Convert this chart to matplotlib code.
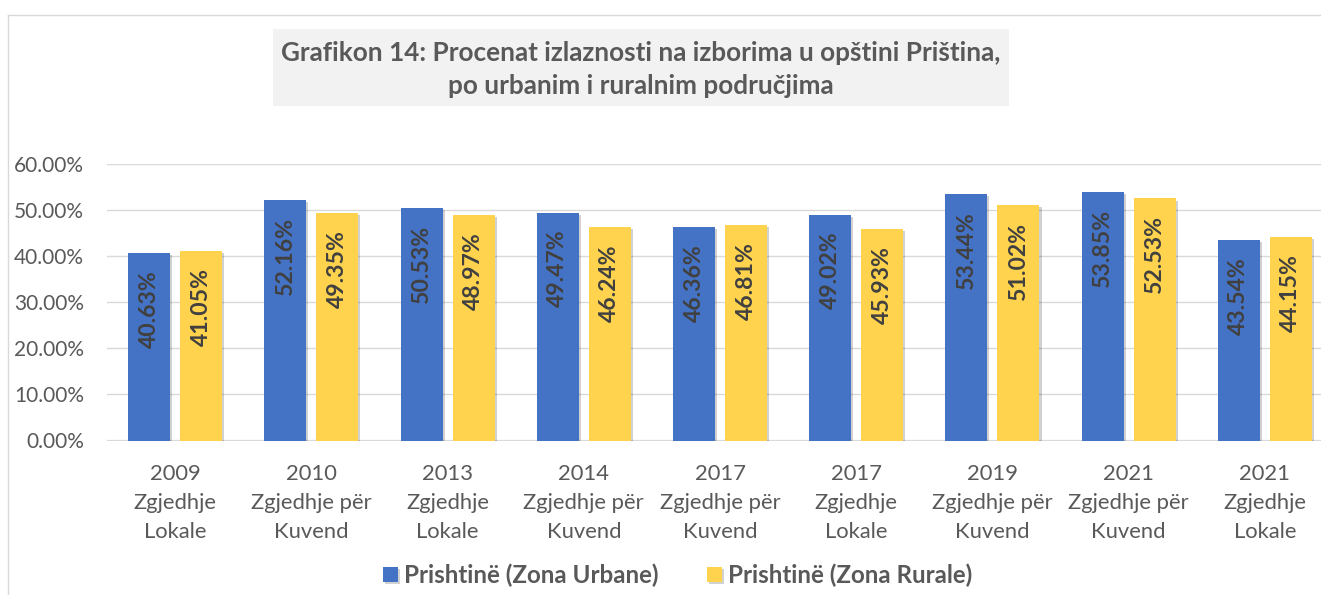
import matplotlib
matplotlib.use("Agg")
import matplotlib.pyplot as plt
import matplotlib.patheffects as pe
from matplotlib.patches import Rectangle
from matplotlib.lines import Line2D
from matplotlib.transforms import blended_transform_factory

# ---------------- data ----------------
years = ["2009", "2010", "2013", "2014", "2017", "2017", "2019", "2021", "2021"]
type_line1 = ["Zgjedhje", "Zgjedhje për", "Zgjedhje", "Zgjedhje për", "Zgjedhje për",
              "Zgjedhje", "Zgjedhje për", "Zgjedhje për", "Zgjedhje"]
type_line2 = ["Lokale", "Kuvend", "Lokale", "Kuvend", "Kuvend",
              "Lokale", "Kuvend", "Kuvend", "Lokale"]
urban = [40.63, 52.16, 50.53, 49.47, 46.36, 49.02, 53.44, 53.85, 43.54]
rural = [41.05, 49.35, 48.97, 46.24, 46.81, 45.93, 51.02, 52.53, 44.15]
series_names = ["Prishtinë (Zona Urbane)", "Prishtinë (Zona Rurale)"]
yticks = [0, 10, 20, 30, 40, 50, 60]
title_lines = ["Grafikon 14: Procenat izlaznosti na izborima u opštini Priština,",
               "po urbanim i ruralnim područjima"]

# ---------------- style ----------------
W, H = 1321, 595
BLUE = "#4472C4"
YELLOW = "#FFD34D"
GRAY_TXT = "#595959"
LABEL_TXT = "#404040"
GRID = "#D9D9D9"
FONT = "Lato"

fig = plt.figure(figsize=(W / 100, H / 100), dpi=100)
renderer = fig.canvas.get_renderer()


def fit(text, target_px, weight="normal"):
    t = fig.text(0, 0, text, fontsize=10, family=FONT, weight=weight)
    w = t.get_window_extent(renderer).width
    t.remove()
    return 10 * target_px / w


fs_tick = fit("60.00%", 70)
fs_cat = fit("Zgjedhje për", 121)
fs_lab = fit("40.63%", 78, "bold")
fs_title = fit(title_lines[0], 720, "bold")
fs_leg = fit(series_names[0], 255, "bold")


def fx(px):
    return px / W


def fy(py):
    return 1 - py / H


# chart border (light gray frame, cropped on right/bottom)
fig.add_artist(Line2D([fx(8), 1.0], [fy(15), fy(15)], color=GRID, lw=1.0))
fig.add_artist(Line2D([fx(8), fx(8)], [fy(15), 0.0], color=GRID, lw=1.0))

# axes
left_px, right_px = 107, 1333
top_px, bot_px = 164, 440.5
ax = fig.add_axes([fx(left_px), fy(bot_px), (right_px - left_px) / W, (bot_px - top_px) / H])
ax.set_xlim(-0.5, len(years) - 0.5)
ax.set_ylim(0, 60)
for s in ax.spines.values():
    s.set_visible(False)
ax.set_axisbelow(True)
ax.yaxis.grid(True, color=GRID, lw=1.0)
ax.set_yticks(yticks)
ax.set_yticklabels([f"{v:.2f}%" for v in yticks], family=FONT, fontsize=fs_tick, color=GRAY_TXT)
ax.tick_params(axis="y", length=0, pad=16.5)
ax.set_xticks([])
ax.axhline(0, color=GRID, lw=1.6, zorder=1)

x = list(range(len(years)))
bw = 0.308
off = 0.191
shadow = [pe.SimplePatchShadow(offset=(1.5, -1.5), shadow_rgbFace="black", alpha=0.18), pe.Normal()]
b1 = ax.bar([i - off for i in x], urban, bw, color=BLUE, label=series_names[0], zorder=3)
b2 = ax.bar([i + off for i in x], rural, bw, color=YELLOW, label=series_names[1], zorder=3)
for b in list(b1) + list(b2):
    b.set_path_effects(shadow)

for i in x:
    for xv, v in ((i - off, urban[i]), (i + off, rural[i])):
        ax.annotate(f"{v:.2f}%", xy=(xv, v), xytext=(0, -17), textcoords="offset pixels",
                    rotation=90, ha="center", va="top", family=FONT, weight="bold",
                    fontsize=fs_lab, color=LABEL_TXT, zorder=4)

# category labels (three lines)
tr = blended_transform_factory(ax.transData, fig.transFigure)
for i in x:
    for txt, base in ((years[i], 480), (type_line1[i], 509.3), (type_line2[i], 537.7)):
        ax.text(i, fy(base), txt, transform=tr, ha="center", va="baseline",
                family=FONT, fontsize=fs_cat, color=GRAY_TXT, clip_on=False)

# title box
fig.add_artist(Rectangle((fx(273), fy(106)), (1009 - 273) / W, (106 - 29) / H,
                         facecolor="#F2F2F2", edgecolor="none"))
fig.text(fx(641), fy(60.7), title_lines[0], ha="center", va="baseline", family=FONT,
         weight="bold", fontsize=fs_title, color=GRAY_TXT)
fig.text(fx(641), fy(94.3), title_lines[1], ha="center", va="baseline", family=FONT,
         weight="bold", fontsize=fs_title, color=GRAY_TXT)

# legend
fpx = fs_leg * 100 / 72
fig.legend(handles=[b1, b2], labels=series_names, loc="center", ncol=2,
           bbox_to_anchor=(fx(677.5), fy(575)), frameon=False, borderpad=0,
           handlelength=15 / fpx, handleheight=14 / fpx, handletextpad=6.5 / fpx,
           columnspacing=48 / fpx, labelcolor=GRAY_TXT,
           prop={"family": FONT, "weight": "bold", "size": fs_leg})

fig.savefig("out.png", dpi=100)
